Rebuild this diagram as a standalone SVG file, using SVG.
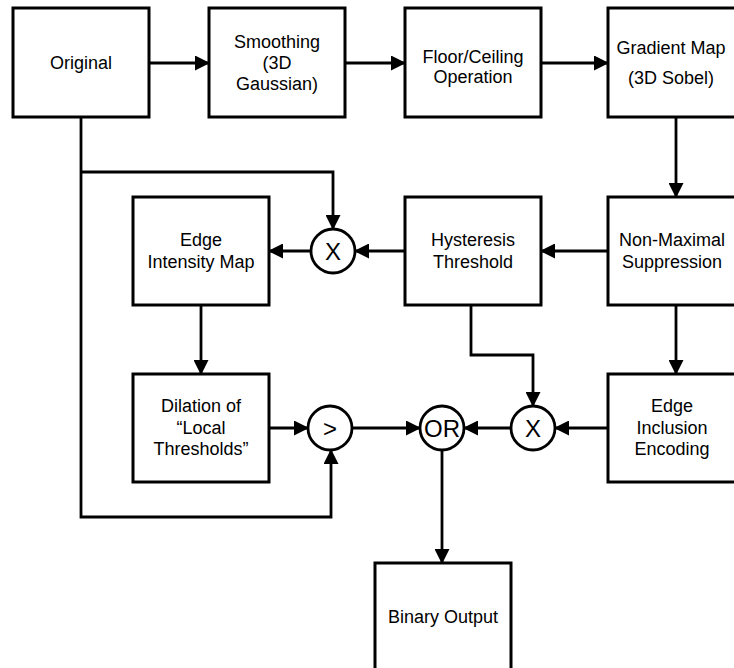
<svg xmlns="http://www.w3.org/2000/svg" width="734" height="668" viewBox="0 0 734 668">
<defs>
<style>
.box{fill:#fff;stroke:#000;stroke-width:3}
.op{fill:#fff;stroke:#000;stroke-width:2.8}
.t{font-family:"Liberation Sans",Arial,Helvetica,sans-serif;font-size:18px;fill:#000;text-anchor:middle}
.s{font-family:"Liberation Sans",Arial,Helvetica,sans-serif;font-size:24px;fill:#000;text-anchor:middle}
.c{fill:none;stroke:#000;stroke-width:2.8}
</style>
<marker id="ah" markerUnits="userSpaceOnUse" markerWidth="15" markerHeight="15" refX="14" refY="7.5" orient="auto">
<path d="M0,0 L15,7.5 L0,15 z" fill="#000"/>
</marker>
</defs>
<rect width="734" height="668" fill="#fff"/>
<g id="connectors">
<line class="c" x1="149" y1="63" x2="209" y2="63" marker-end="url(#ah)"/>
<line class="c" x1="345" y1="63" x2="405" y2="63" marker-end="url(#ah)"/>
<line class="c" x1="541" y1="63" x2="608" y2="63" marker-end="url(#ah)"/>
<line class="c" x1="676" y1="117" x2="676" y2="197" marker-end="url(#ah)"/>
<line class="c" x1="608" y1="251" x2="541" y2="251" marker-end="url(#ah)"/>
<line class="c" x1="405" y1="251" x2="355" y2="251" marker-end="url(#ah)"/>
<line class="c" x1="311" y1="251" x2="269" y2="251" marker-end="url(#ah)"/>
<path class="c" d="M81,117 V517 H331 V450" marker-end="url(#ah)"/>
<path class="c" d="M81,172 H333 V229" marker-end="url(#ah)"/>
<line class="c" x1="201" y1="305" x2="201" y2="374" marker-end="url(#ah)"/>
<line class="c" x1="269" y1="428" x2="308" y2="428" marker-end="url(#ah)"/>
<line class="c" x1="352" y1="428" x2="420" y2="428" marker-end="url(#ah)"/>
<path class="c" d="M471,305 V355 H533 V406" marker-end="url(#ah)"/>
<line class="c" x1="676" y1="305" x2="676" y2="374" marker-end="url(#ah)"/>
<line class="c" x1="608" y1="428" x2="555" y2="428" marker-end="url(#ah)"/>
<line class="c" x1="511" y1="428" x2="464" y2="428" marker-end="url(#ah)"/>
<line class="c" x1="442" y1="450" x2="442" y2="563" marker-end="url(#ah)"/>
</g>
<g id="original"><rect class="box" x="13" y="8" width="136" height="109"/><text class="t" x="81" y="69">Original</text></g>
<g id="smoothing"><rect class="box" x="209" y="8" width="136" height="109"/><text class="t" x="277" y="48">Smoothing</text><text class="t" x="277" y="69">(3D</text><text class="t" x="277" y="90">Gaussian)</text></g>
<g id="floor"><rect class="box" x="405" y="8" width="136" height="109"/><text class="t" x="473" y="63">Floor/Ceiling</text><text class="t" x="473" y="83">Operation</text></g>
<g id="gradient"><rect class="box" x="608" y="8" width="136" height="109"/><text class="t" x="671" y="54">Gradient Map</text><text class="t" x="671" y="84">(3D Sobel)</text></g>
<g id="nms"><rect class="box" x="608" y="197" width="136" height="108"/><text class="t" x="672" y="246">Non-Maximal</text><text class="t" x="672" y="268">Suppression</text></g>
<g id="hysteresis"><rect class="box" x="405" y="197" width="136" height="108"/><text class="t" x="473" y="246">Hysteresis</text><text class="t" x="473" y="268">Threshold</text></g>
<g id="mult1"><circle class="op" cx="333" cy="251" r="22"/><text class="s" x="333" y="259.5">X</text></g>
<g id="edgeintensity"><rect class="box" x="133" y="197" width="136" height="108"/><text class="t" x="201" y="246">Edge</text><text class="t" x="201" y="268">Intensity Map</text></g>
<g id="dilation"><rect class="box" x="133" y="374" width="136" height="108"/><text class="t" x="201" y="412">Dilation of</text><text class="t" x="201" y="434">“Local</text><text class="t" x="201" y="455">Thresholds”</text></g>
<g id="greater"><circle class="op" cx="330" cy="428" r="22"/><text class="s" x="330" y="436.5">&gt;</text></g>
<g id="or"><circle class="op" cx="442" cy="428" r="22"/><text class="s" x="442" y="436.5">OR</text></g>
<g id="mult2"><circle class="op" cx="533" cy="428" r="22"/><text class="s" x="533" y="436.5">X</text></g>
<g id="edgeinclusion"><rect class="box" x="608" y="374" width="136" height="108"/><text class="t" x="672" y="412">Edge</text><text class="t" x="672" y="434">Inclusion</text><text class="t" x="672" y="455">Encoding</text></g>
<g id="binary"><rect class="box" x="375" y="563" width="136" height="112"/><text class="t" x="443" y="623">Binary Output</text></g>
</svg>
